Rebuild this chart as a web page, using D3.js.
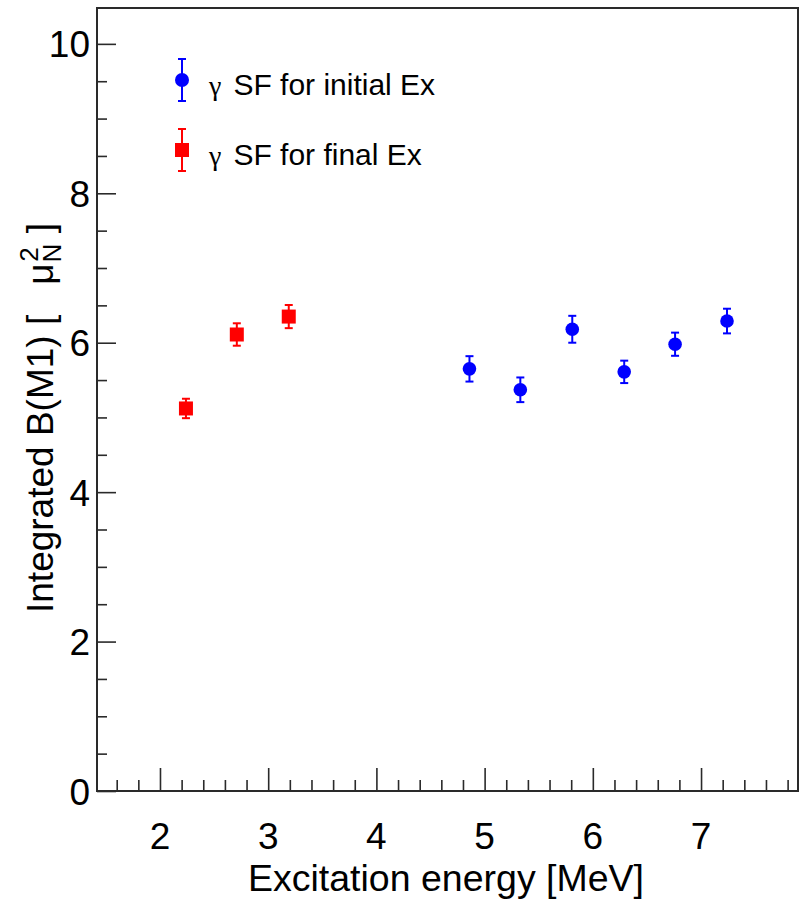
<!DOCTYPE html>
<html>
<head>
<meta charset="utf-8">
<script src="https://cdn.jsdelivr.net/npm/d3@7"></script>
<style>
  html, body { margin: 0; padding: 0; background: #fff; }
  svg { display: block; font-family: "Liberation Sans", Arial, Helvetica, sans-serif; }
</style>
</head>
<body>
<svg id="chart" width="800" height="900"></svg>
<script>
// Integrated B(M1) strength vs excitation energy
const finalEx   = [2.24, 2.71, 3.19];
const finalB    = [5.12, 6.11, 6.35];
const finalErr  = [0.13, 0.15, 0.155];

const initialEx  = [4.86, 5.33, 5.81, 6.29, 6.76, 7.24];
const initialB   = [5.65, 5.37, 6.18, 5.61, 5.98, 6.29];
const initialErr = [0.17, 0.165, 0.18, 0.15, 0.155, 0.165];

const xTickValues = [2, 3, 4, 5, 6, 7];
const yTickValues = [0, 2, 4, 6, 8, 10];

const legendLabels = ["SF for initial Ex", "SF for final Ex"];

const svg = d3.select("#chart");
const frame = { left: 97, right: 798, top: 8, bottom: 791 };

const x = d3.scaleLinear().domain([1.418, 7.896]).range([frame.left, frame.right]);
const y = d3.scaleLinear().domain([0, 10.48]).range([frame.bottom, frame.top]);

const axisColor = "#2a2a2a";

// minor tick positions
const xMinor = d3.range(1.6, 7.81, 0.2).filter(v => Math.abs(v - Math.round(v)) > 1e-6);
const yMinor = d3.range(0.5, 10.41, 0.5).filter(v => Math.abs(v / 2 - Math.round(v / 2)) > 1e-6);

// X axis (major ticks + labels)
const xAxis = d3.axisTop(x).tickValues(xTickValues).tickSize(23).tickFormat("");
const gx = svg.append("g").attr("transform", `translate(0,${frame.bottom})`).call(xAxis);
gx.select(".domain").remove();
gx.selectAll(".tick line").attr("stroke", axisColor).attr("stroke-width", 1.6);
const xMinorAxis = d3.axisTop(x).tickValues(xMinor).tickSize(11).tickFormat("");
const gxm = svg.append("g").attr("transform", `translate(0,${frame.bottom})`).call(xMinorAxis);
gxm.select(".domain").remove();
gxm.selectAll(".tick line").attr("stroke", axisColor).attr("stroke-width", 1.6);

svg.append("g").selectAll("text").data(xTickValues).join("text")
  .attr("x", d => x(d)).attr("y", 849)
  .attr("text-anchor", "middle")
  .attr("font-size", 37).attr("fill", "#000")
  .text(d => d);

// Y axis (major ticks + labels)
const yAxis = d3.axisRight(y).tickValues(yTickValues).tickSize(19).tickFormat("");
const gy = svg.append("g").attr("transform", `translate(${frame.left},0)`).call(yAxis);
gy.select(".domain").remove();
gy.selectAll(".tick line").attr("stroke", axisColor).attr("stroke-width", 1.6);
const yMinorAxis = d3.axisRight(y).tickValues(yMinor).tickSize(10).tickFormat("");
const gym = svg.append("g").attr("transform", `translate(${frame.left},0)`).call(yMinorAxis);
gym.select(".domain").remove();
gym.selectAll(".tick line").attr("stroke", axisColor).attr("stroke-width", 1.6);

svg.append("g").selectAll("text").data(yTickValues).join("text")
  .attr("x", 90).attr("y", d => y(d) + 13.5)
  .attr("text-anchor", "end")
  .attr("font-size", 37).attr("fill", "#000")
  .text(d => d);

// frame
svg.append("rect")
  .attr("x", frame.left).attr("y", frame.top)
  .attr("width", frame.right - frame.left).attr("height", frame.bottom - frame.top)
  .attr("fill", "none").attr("stroke", axisColor).attr("stroke-width", 2);

// axis titles
svg.append("text")
  .attr("x", 644).attr("y", 891)
  .attr("text-anchor", "end")
  .attr("font-size", 37.5).attr("fill", "#000")
  .text("Excitation energy [MeV]");

const yTitle = svg.append("text")
  .attr("transform", "translate(53,613) rotate(-90)")
  .attr("font-size", 37).attr("fill", "#000");
yTitle.append("tspan").text("Integrated B(M1) [");
yTitle.append("tspan").attr("dx", 30).text("μ");
yTitle.append("tspan").attr("font-size", 26).attr("dy", 8).attr("dx", 1).text("N");
yTitle.append("tspan").attr("font-size", 26).attr("dy", -23).attr("dx", -18).text("2");
yTitle.append("tspan").attr("dy", 15).attr("dx", 14).text("]");

// error bars + markers
function drawSeries(xs, ys, es, color, shape) {
  const data = xs.map((v, i) => ({ x: v, y: ys[i], e: es[i] }));
  const g = svg.append("g");
  const cap = 4;
  g.selectAll("line.bar").data(data).join("line")
    .attr("x1", d => x(d.x)).attr("x2", d => x(d.x))
    .attr("y1", d => y(d.y - d.e)).attr("y2", d => y(d.y + d.e))
    .attr("stroke", color).attr("stroke-width", 2);
  g.selectAll("line.capTop").data(data).join("line")
    .attr("x1", d => x(d.x) - cap).attr("x2", d => x(d.x) + cap)
    .attr("y1", d => y(d.y + d.e)).attr("y2", d => y(d.y + d.e))
    .attr("stroke", color).attr("stroke-width", 2);
  g.selectAll("line.capBot").data(data).join("line")
    .attr("x1", d => x(d.x) - cap).attr("x2", d => x(d.x) + cap)
    .attr("y1", d => y(d.y - d.e)).attr("y2", d => y(d.y - d.e))
    .attr("stroke", color).attr("stroke-width", 2);
  if (shape === "circle") {
    g.selectAll("circle").data(data).join("circle")
      .attr("cx", d => x(d.x)).attr("cy", d => y(d.y)).attr("r", 6.8)
      .attr("fill", color);
  } else {
    g.selectAll("rect").data(data).join("rect")
      .attr("x", d => x(d.x) - 7).attr("y", d => y(d.y) - 7)
      .attr("width", 14).attr("height", 14)
      .attr("fill", color);
  }
}
drawSeries(finalEx, finalB, finalErr, "#ff0000", "square");
drawSeries(initialEx, initialB, initialErr, "#0000ff", "circle");

// legend
const legendItems = [
  { label: legendLabels[0], color: "#0000ff", shape: "circle", cy: 80 },
  { label: legendLabels[1], color: "#ff0000", shape: "square", cy: 150 }
];
const lg = svg.append("g");
legendItems.forEach(it => {
  const cx = 182;
  lg.append("line").attr("x1", cx).attr("x2", cx).attr("y1", it.cy - 21).attr("y2", it.cy + 21)
    .attr("stroke", it.color).attr("stroke-width", 2);
  [it.cy - 21, it.cy + 21].forEach(cy =>
    lg.append("line").attr("x1", cx - 4).attr("x2", cx + 4).attr("y1", cy).attr("y2", cy)
      .attr("stroke", it.color).attr("stroke-width", 2));
  if (it.shape === "circle") {
    lg.append("circle").attr("cx", cx).attr("cy", it.cy).attr("r", 7).attr("fill", it.color);
  } else {
    lg.append("rect").attr("x", cx - 7).attr("y", it.cy - 7).attr("width", 14).attr("height", 14).attr("fill", it.color);
  }
  const t = lg.append("text").attr("x", 209).attr("y", it.cy + 15)
    .attr("font-size", 30).attr("fill", "#000");
  t.append("tspan").attr("font-family", "'Liberation Serif', 'DejaVu Serif', serif").attr("font-size", 28).text("γ");
  t.append("tspan").attr("dx", 12).text(it.label);
});
</script>
</body>
</html>
